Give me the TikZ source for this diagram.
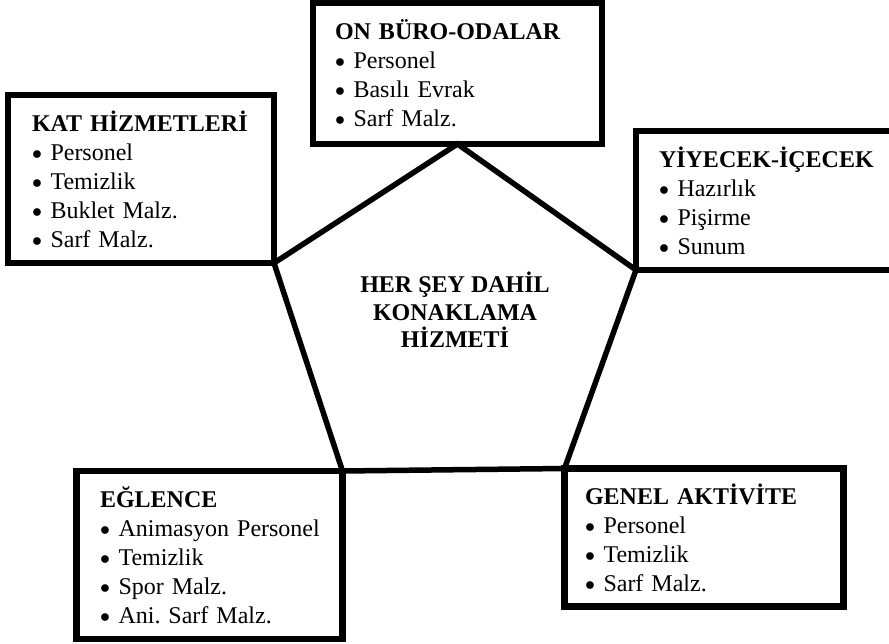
\documentclass[tikz,border=0pt]{standalone}
\usepackage{fontspec}
\setmainfont{Liberation Serif}
\frenchspacing
\newcommand\baslik[1]{\mbox{\textbf{#1}}}
\newcommand\madde[1]{\mbox{\makebox[18.5pt][l]{\raisebox{1pt}{\scalebox{0.8}{$\bullet$}}}#1}}

\begin{document}
\begin{tikzpicture}[
	x=1pt, y=-1pt,
	kutu/.style={rectangle, draw, line width=6.5pt, outer sep=0pt, align=left, font=\fontsize{24}{29}\selectfont},
	kenar/.style={line width=5.5pt, line join=miter},
	merkezyazi/.style={align=center, font=\fontsize{24}{27.5}\selectfont\bfseries},
	]
	\useasboundingbox (0,0) rectangle (889,644);
	\node [kutu, minimum height=141pt, inner xsep=22pt, text width=245pt] (onburo) at (457.5,73.5)
		{\baslik{ON BÜRO-ODALAR}\\ \madde{Personel}\\ \madde{Basılı Evrak}\\ \madde{Sarf Malz.}};
	\node [kutu, minimum height=168pt, inner xsep=24pt, text width=218pt] (kat) at (141,179)
		{\baslik{KAT HİZMETLERİ}\\ \madde{Personel}\\ \madde{Temizlik}\\ \madde{Buklet Malz.}\\ \madde{Sarf Malz.}};
	\node [kutu, minimum height=139pt, inner xsep=23pt, text width=218pt] (yiyecek) at (768,200.5)
		{\baslik{YİYECEK-İÇECEK}\\ \madde{Hazırlık}\\ \madde{Pişirme}\\ \madde{Sunum}};
	\node [kutu, minimum height=168pt, inner xsep=23.5pt, text width=219pt] (eglence) at (209.5,555)
		{\baslik{EĞLENCE}\\ \madde{Animasyon Personel}\\ \madde{Temizlik}\\ \madde{Spor Malz.}\\ \madde{Ani. Sarf Malz.}};
	\node [kutu, minimum height=138pt, inner xsep=20.5pt, text width=238pt] (genel) at (704,537.5)
		{\baslik{GENEL AKTİVİTE}\\ \madde{Personel}\\ \madde{Temizlik}\\ \madde{Sarf Malz.}};
	\node [merkezyazi] (merkez) at (455,310) {HER ŞEY DAHİL\\KONAKLAMA\\HİZMETİ};
	\draw [kenar] (kat.south east) -- (onburo.south) -- (yiyecek.south west) -- (genel.north west) -- (eglence.north east) -- cycle;
\end{tikzpicture}
\end{document}
